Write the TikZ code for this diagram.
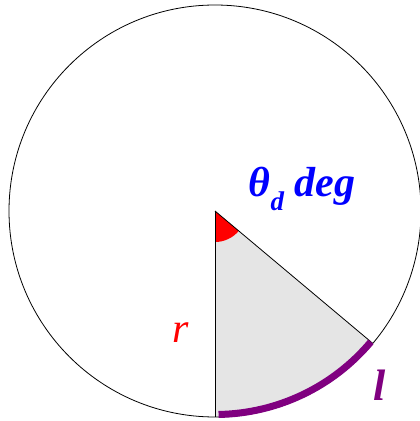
\documentclass[tikz,border=0pt]{standalone}
\usepackage{fontspec}
\setmainfont{Liberation Serif}
\usepackage{xcolor}
\usetikzlibrary{positioning, calc}
\definecolor{arcpurple}{RGB}{128,0,128}

\begin{document}
\begin{tikzpicture}[x=1pt, y=1pt,
  lbl/.style={font=\bfseries\itshape\fontsize{42}{42}\selectfont, inner sep=0pt},
  edge/.style={line width=0.8pt, black}
]
  \useasboundingbox (0,0) rectangle (420,421);
  \def\rad{206}
  \coordinate (O) at (215,210);
  \coordinate (A) at ($(O)+(-90:\rad)$);
  \coordinate (B) at ($(O)+(-40:\rad)$);

  % sector and angle
  \fill[gray!20] (O) -- (A) arc (-90:-40:\rad) -- cycle;
  \fill[red] (O) -- ++(-90:31) arc (-90:-40:31) -- cycle;
  \draw[edge] (O) circle (\rad);
  \draw[edge] (O) -- (A);
  \draw[edge] (O) -- (B);
  \draw[arcpurple, line width=7pt] ($(O)+(-89:\rad-2.5)$) arc (-89:-40:\rad-2.5);

  % labels
  \node[lbl, blue] (theta) at (302,232)
    {θ\raisebox{-0.35em}{\fontsize{27}{27}\selectfont d} deg};
  \node[lbl, red, font=\itshape\fontsize{42}{42}\selectfont] (r) at (181,88) {r};
  \node[lbl, arcpurple, font=\bfseries\itshape\fontsize{44}{44}\selectfont] (l) at (380,36) {l};
\end{tikzpicture}
\end{document}
